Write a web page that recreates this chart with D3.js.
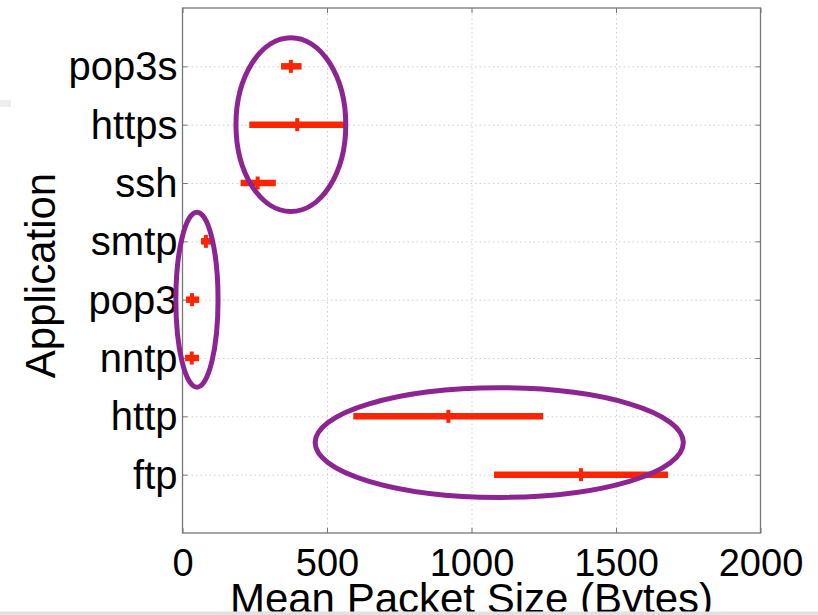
<!DOCTYPE html>
<html>
<head>
<meta charset="utf-8">
<script src="https://cdn.jsdelivr.net/npm/d3@7"></script>
<style>
  body { margin: 0; background: #fff; }
  text { font-family: "Liberation Sans", Arial, Helvetica, sans-serif; fill: #000; }
</style>
</head>
<body>
<svg id="svg" width="818" height="615"></svg>
<script>
// applications, top to bottom
const apps = ["pop3s", "https", "ssh", "smtp", "pop3", "nntp", "http", "ftp"];
// mean packet size (bytes) and the spread around it
const meanSize = [375, 397, 260, 81, 33, 32, 920, 1379];
const lowSize = [341, 231, 201, 64, 12, 9, 591, 1078];
const highSize = [412, 560, 323, 101, 58, 57, 1248, 1680];
const xTicks = [0, 500, 1000, 1500, 2000];

// annotation ellipses: centre (bytes, row position) and radii (bytes, rows)
const groupCx = [375, 50, 1096];
const groupCy = [2, 5, 7.45];
const groupRx = [190, 73, 637];
const groupRy = [1.49, 1.5, 0.94];

let svg = d3.select("#svg");
let plotLeft = 182.5, plotRight = 760.5, plotTop = 8, plotBottom = 533;

let x = d3.scaleLinear().domain([0, 2000]).range([plotLeft, plotRight]);
let y = d3.scalePoint().domain(apps).range([plotTop, plotBottom]).padding(1);
// row position (1 = first app) to pixels, for the annotations
let yRow = d3.scaleLinear().domain([0, apps.length + 1]).range([plotTop, plotBottom]);

// dotted grid
svg.append("g")
  .attr("transform", `translate(0,${plotBottom})`)
  .call(d3.axisBottom(x).tickValues([500, 1000, 1500]).tickSize(-(plotBottom - plotTop)).tickFormat(""))
  .call((g) => g.select(".domain").remove())
  .selectAll("line")
  .attr("stroke", "#cfcfcf")
  .attr("stroke-dasharray", "1.5,3");

svg.append("g")
  .attr("transform", `translate(${plotLeft},0)`)
  .call(d3.axisLeft(y).tickSize(-(plotRight - plotLeft)).tickFormat(""))
  .call((g) => g.select(".domain").remove())
  .selectAll("line")
  .attr("stroke", "#cfcfcf")
  .attr("stroke-dasharray", "1.5,3");

// inner ticks on all four sides
let tickLen = 5;
svg.append("g").attr("class", "ax")
  .attr("transform", `translate(0,${plotBottom})`)
  .call(d3.axisBottom(x).tickValues(xTicks).tickSize(-tickLen).tickSizeOuter(0).tickPadding(16).tickFormat(d3.format("d")));
svg.append("g").attr("class", "ax yax")
  .attr("transform", `translate(${plotLeft},0)`)
  .call(d3.axisLeft(y).tickSize(-tickLen).tickSizeOuter(0).tickPadding(5));
svg.append("g").attr("class", "ax")
  .attr("transform", `translate(0,${plotTop})`)
  .call(d3.axisTop(x).tickValues(xTicks).tickSize(-tickLen).tickSizeOuter(0).tickFormat(""));
svg.append("g").attr("class", "ax")
  .attr("transform", `translate(${plotRight},0)`)
  .call(d3.axisRight(y).tickSize(-tickLen).tickSizeOuter(0).tickFormat(""));

svg.selectAll(".ax .domain").remove();
svg.selectAll(".ax line").attr("stroke", "#777");
svg.selectAll(".ax text")
  .attr("font-size", 38)
  .style("font-family", '"Liberation Sans", Arial, sans-serif')
  .attr("fill", "#000");
svg.selectAll(".yax text").attr("font-size", 40).attr("dy", "0.34em");

// frame
svg.append("rect")
  .attr("x", plotLeft).attr("y", plotTop)
  .attr("width", plotRight - plotLeft).attr("height", plotBottom - plotTop)
  .attr("fill", "none")
  .attr("stroke", "#777")
  .attr("stroke-width", 1.3);

// range bars
let red = "#ff2400";
svg.append("g")
  .selectAll("line")
  .data(apps)
  .enter()
  .append("line")
  .attr("x1", (d, i) => x(lowSize[i]))
  .attr("x2", (d, i) => x(highSize[i]))
  .attr("y1", (d) => y(d))
  .attr("y2", (d) => y(d))
  .attr("stroke", red)
  .attr("stroke-width", 6.5);

// mean marks
svg.append("g")
  .selectAll("line")
  .data(apps)
  .enter()
  .append("line")
  .attr("x1", (d, i) => x(meanSize[i]))
  .attr("x2", (d, i) => x(meanSize[i]))
  .attr("y1", (d) => y(d) - 6.5)
  .attr("y2", (d) => y(d) + 6.5)
  .attr("stroke", red)
  .attr("stroke-width", 4);

// annotation ellipses
svg.append("g")
  .selectAll("ellipse")
  .data(groupCx)
  .enter()
  .append("ellipse")
  .attr("cx", (d) => x(d))
  .attr("cy", (d, i) => yRow(groupCy[i]))
  .attr("rx", (d, i) => x(groupRx[i]) - x(0))
  .attr("ry", (d, i) => yRow(groupRy[i]) - yRow(0))
  .attr("fill", "none")
  .attr("stroke", "#8c2491")
  .attr("stroke-width", 5);

// axis titles
svg.append("text")
  .attr("transform", "translate(55,275.5) rotate(-90)")
  .attr("text-anchor", "middle")
  .attr("font-size", 42)
  .text("Application");

svg.append("text")
  .attr("x", (plotLeft + plotRight) / 2)
  .attr("y", 613)
  .attr("text-anchor", "middle")
  .attr("font-size", 42)
  .text("Mean Packet Size (Bytes)");

// page edges visible in the screenshot
svg.append("rect").attr("x", 0).attr("y", 611.5).attr("width", 818).attr("height", 4).attr("fill", "#e2e2e2");
svg.append("rect").attr("x", 0).attr("y", 100).attr("width", 11).attr("height", 7).attr("fill", "#eeeeee");
</script>
</body>
</html>
